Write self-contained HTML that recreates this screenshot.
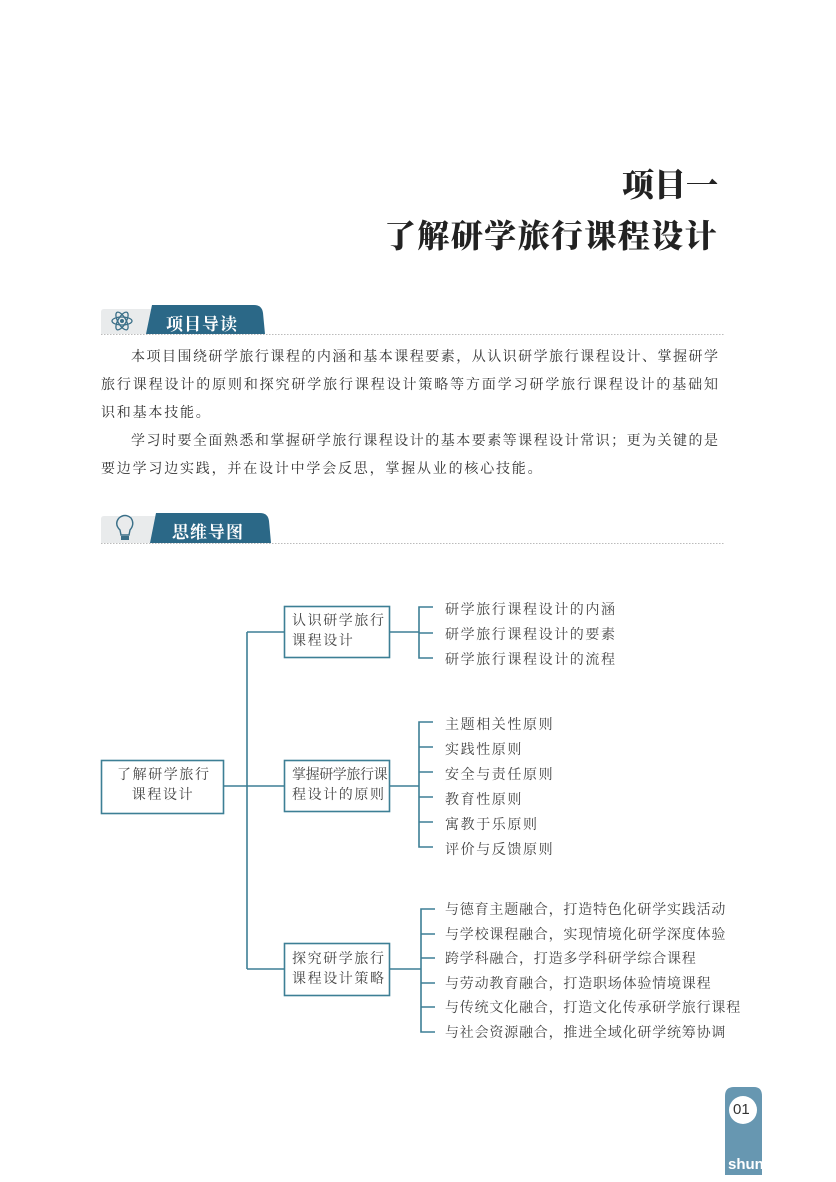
<!DOCTYPE html>
<html><head><meta charset="utf-8"><style>
body{margin:0;background:#fff;}
.page{position:relative;width:836px;height:1182px;overflow:hidden;font-family:"Liberation Serif","Noto Serif CJK SC",serif;color:#333;}
.t{position:absolute;white-space:nowrap;}
.h1{font-family:"Noto Serif CJK SC",serif;font-weight:900;color:#222;right:118px;}
.l{position:absolute;left:101px;width:618px;font-size:14px;line-height:28px;letter-spacing:1px;color:#333;text-align:justify;text-align-last:justify;white-space:nowrap;}
.n{text-align-last:left;}
.mm{font-size:14px;letter-spacing:1.6px;color:#444;}
</style></head><body><div class="page">
<div class="t h1" style="top:160px;font-size:32px;">项目一</div>
<div class="t h1" style="top:211px;font-size:32px;letter-spacing:1.4px;">了解研学旅行课程设计</div>

<svg width="836" height="1182" style="position:absolute;left:0;top:0">
 <path d="M101 312 Q101 309 104 309 L262 309 L262 334 L101 334Z" fill="#e9ebec"/>
 <path d="M152 305 L254 305 Q262 305 263 313 L265 334 L146 334 Z" fill="#2b6887"/>
 <line x1="101" y1="334.5" x2="725" y2="334.5" stroke="#bbb" stroke-dasharray="1.5 1.5"/>
 <g stroke="#3a6f88" fill="none" stroke-width="1.3">
  <ellipse cx="122" cy="321" rx="10" ry="4"/>
  <ellipse cx="122" cy="321" rx="10" ry="4" transform="rotate(60 122 321)"/>
  <ellipse cx="122" cy="321" rx="10" ry="4" transform="rotate(-60 122 321)"/>
 </g>
 <circle cx="122" cy="321" r="2" fill="#3a6f88"/>
 <path d="M101 519 Q101 516 104 516 L268 516 L268 543 L101 543Z" fill="#e9ebec"/>
 <path d="M156 513 L260 513 Q268 513 269 521 L271 543 L150 543 Z" fill="#2b6887"/>
 <line x1="101" y1="543.5" x2="725" y2="543.5" stroke="#bbb" stroke-dasharray="1.5 1.5"/>
 <path d="M120 530 Q114 524 119 518 Q125 513 131 518 Q135 524 130 530 L129 535 L121 535Z" fill="none" stroke="#3a6f88" stroke-width="1.4"/>
 <rect x="121" y="536" width="8" height="4" fill="#3a6f88"/>
 <g stroke="#3d7f95" stroke-width="1.6" fill="none">
  <rect x="101.5" y="760.5" width="122" height="53"/>
  <rect x="284.5" y="606.5" width="105" height="51"/>
  <rect x="284.5" y="760.5" width="105" height="51"/>
  <rect x="284.5" y="943.5" width="105" height="52"/>
  <line x1="224" y1="786" x2="284" y2="786"/>
  <line x1="247" y1="632" x2="247" y2="969"/>
  <line x1="247" y1="632" x2="284" y2="632"/>
  <line x1="247" y1="969" x2="284" y2="969"/>
  <line x1="390" y1="632" x2="419" y2="632"/>
  <line x1="390" y1="786" x2="419" y2="786"/>
  <line x1="390" y1="969" x2="421" y2="969"/>
  <path d="M433 607 H419 V658 H433 M419 633 H433"/>
  <path d="M433 722 H419 V847 H433 M419 747 H433 M419 772 H433 M419 797 H433 M419 822 H433"/>
  <path d="M435 909 H421 V1032 H435 M421 934 H435 M421 958 H435 M421 983 H435 M421 1007 H435"/>
 </g>
 <path d="M725 1175 L725 1096 Q725 1087 734 1087 L754 1087 Q762 1087 762 1096 L762 1175Z" fill="#6797b1"/>
 <circle cx="743" cy="1110" r="14" fill="#fff"/>
</svg>

<div class="t" style="left:166px;top:310px;font-size:17px;font-weight:bold;color:#fff;font-family:'Noto Serif CJK SC',serif;letter-spacing:1px;">项目导读</div>
<div class="t" style="left:172px;top:518px;font-size:17px;font-weight:bold;color:#fff;font-family:'Noto Serif CJK SC',serif;letter-spacing:1px;">思维导图</div>

<div class="l" style="top:344px;left:131px;width:588px;">本项目围绕研学旅行课程的内涵和基本课程要素，从认识研学旅行课程设计、掌握研学</div>
<div class="l" style="top:372px;">旅行课程设计的原则和探究研学旅行课程设计策略等方面学习研学旅行课程设计的基础知</div>
<div class="l n" style="top:400px;letter-spacing:1.8px;">识和基本技能。</div>
<div class="l" style="top:428px;left:131px;width:588px;">学习时要全面熟悉和掌握研学旅行课程设计的基本要素等课程设计常识；更为关键的是</div>
<div class="l n" style="top:456px;letter-spacing:1.8px;">要边学习边实践，并在设计中学会反思，掌握从业的核心技能。</div>

<div class="t mm" style="left:117px;top:766px;line-height:20px;text-align:center;width:92px;">了解研学旅行<br>课程设计</div>
<div class="t mm" style="left:292px;top:612px;line-height:20px;">认识研学旅行<br>课程设计</div>
<div class="t mm" style="left:292px;top:766px;line-height:20px;letter-spacing:-0.4px;">掌握研学旅行课<br><span style="letter-spacing:1.6px">程设计的原则</span></div>
<div class="t mm" style="left:292px;top:950px;line-height:20px;">探究研学旅行<br>课程设计策略</div>

<div class="t mm" style="left:445px;top:598px;line-height:25px;">研学旅行课程设计的内涵<br>研学旅行课程设计的要素<br>研学旅行课程设计的流程</div>
<div class="t mm" style="left:445px;top:713px;line-height:25px;">主题相关性原则<br>实践性原则<br>安全与责任原则<br>教育性原则<br>寓教于乐原则<br>评价与反馈原则</div>
<div class="t mm" style="left:445px;top:899px;line-height:24.6px;letter-spacing:0.8px;">与德育主题融合，打造特色化研学实践活动<br>与学校课程融合，实现情境化研学深度体验<br>跨学科融合，打造多学科研学综合课程<br>与劳动教育融合，打造职场体验情境课程<br>与传统文化融合，打造文化传承研学旅行课程<br>与社会资源融合，推进全域化研学统筹协调</div>

<div class="t" style="left:733px;top:1101px;font-size:15px;font-family:'Liberation Sans',sans-serif;color:#333;">01</div>
<div class="t" style="left:728px;top:1156px;font-size:15px;font-family:'Liberation Sans',sans-serif;color:#fff;font-weight:bold;width:34px;overflow:hidden;">shun</div>
</div></body></html>
